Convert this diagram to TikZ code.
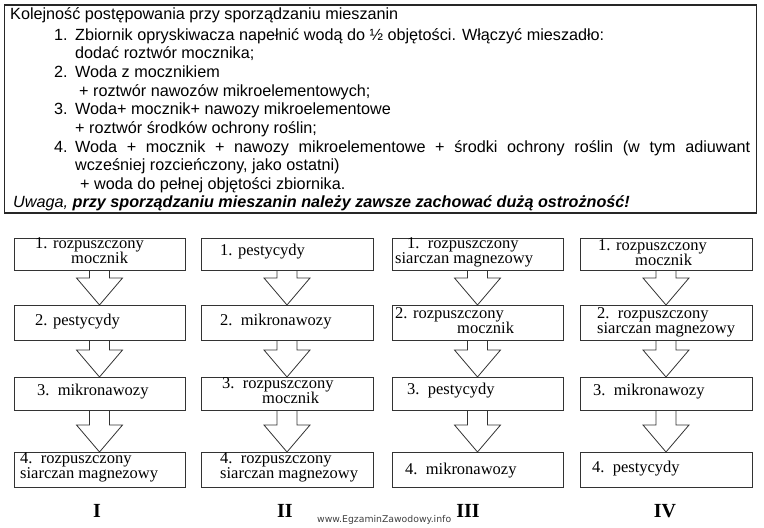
\documentclass[tikz,border=0pt]{standalone}
\usepackage{fontspec}
\setmainfont{Liberation Serif}
\newfontfamily\arialn{Liberation Sans}
\newfontfamily\wmfont{DejaVu Sans}
\usetikzlibrary{calc}
\newcommand{\blockarr}[2]{%
  \draw[arr] ($(#1.south)+(-10pt,0pt)$) -- ($(#2.north)+(-10pt,27pt)$) -- ($(#2.north)+(-23pt,27pt)$) -- (#2.north)
   -- ($(#2.north)+(23pt,27pt)$) -- ($(#2.north)+(10pt,27pt)$) -- ($(#1.south)+(10pt,0pt)$);}
\begin{document}
\begin{tikzpicture}[x=1pt,y=-1pt,
  frame/.style={draw=black!85, line width=1.1pt, inner sep=0pt, outer sep=0pt},
  box/.style={draw=black!80, line width=0.8pt, inner sep=0pt, outer sep=0pt},
  tt/.style={anchor=mid west, inner sep=0pt, font=\arialn\fontsize{16.2}{18.6}\selectfont},
  bt/.style={anchor=mid west, inner sep=0pt, font=\fontsize{16.5}{16.5}\selectfont},
  rn/.style={inner sep=0pt, font=\bfseries\fontsize{20}{20}\selectfont},
  arr/.style={draw=black!80, line width=0.8pt, line join=miter}
]
\useasboundingbox (0,0) rectangle (764,528);
\fill[white] (0,0) rectangle (764,528);

% top box
\node[frame, minimum width=752pt, minimum height=208pt] (top) at (380.5,109) {};
\node[tt] (t0) at (10,17) {Kolejność postępowania przy sporządzaniu mieszanin};
\node[tt] (n1) at (54,38) {1.};
\node[tt] (t1) at (75,38) {Zbiornik opryskiwacza napełnić wodą do ½ objętości. Włączyć mieszadło:};
\node[tt] (t1b) at (75,56.7) {dodać roztwór mocznika;};
\node[tt] (n2) at (54,75.4) {2.};
\node[tt] (t2) at (75,75.4) {Woda z mocznikiem};
\node[tt] (t2b) at (79,94) {+ roztwór nawozów mikroelementowych;};
\node[tt] (n3) at (54,112.7) {3.};
\node[tt] (t3) at (75,112.7) {Woda+ mocznik+ nawozy mikroelementowe};
\node[tt] (t3b) at (75,131.4) {+ roztwór środków ochrony roślin;};
\node[tt] (n4) at (54,150) {4.};
\node[tt] (t4) at (75,150) {\makebox[675pt][s]{Woda + mocznik + nawozy mikroelementowe + środki ochrony roślin (w tym adiuwant}};
\node[tt] (t4b) at (75,168.7) {wcześniej rozcieńczony, jako ostatni)};
\node[tt] (t4c) at (80,187.4) {+ woda do pełnej objętości zbiornika.};
\node[tt] (uw) at (13,205) {\itshape Uwaga, \bfseries przy sporządzaniu mieszanin należy zawsze zachować dużą ostrożność!};

% column I
\node[box, minimum width=171pt, minimum height=32pt] (a1) at (99.5,254) {};
\node[box, minimum width=171pt, minimum height=35pt] (a2) at (99.5,322.5) {};
\node[box, minimum width=171pt, minimum height=33pt] (a3) at (99.5,393.5) {};
\node[box, minimum width=171pt, minimum height=35pt] (a4) at (99.5,469.5) {};
% column II
\node[box, minimum width=172pt, minimum height=32pt] (b1) at (287,254) {};
\node[box, minimum width=172pt, minimum height=35pt] (b2) at (287,322.5) {};
\node[box, minimum width=172pt, minimum height=33pt] (b3) at (287,393.5) {};
\node[box, minimum width=172pt, minimum height=35pt] (b4) at (287,469.5) {};
% column III
\node[box, minimum width=171pt, minimum height=32pt] (c1) at (477.5,254) {};
\node[box, minimum width=171pt, minimum height=35pt] (c2) at (477.5,322.5) {};
\node[box, minimum width=171pt, minimum height=33pt] (c3) at (477.5,393.5) {};
\node[box, minimum width=171pt, minimum height=35pt] (c4) at (477.5,469.5) {};
% column IV
\node[box, minimum width=172pt, minimum height=32pt] (d1) at (666,254) {};
\node[box, minimum width=172pt, minimum height=35pt] (d2) at (666,322.5) {};
\node[box, minimum width=172pt, minimum height=33pt] (d3) at (666,393.5) {};
\node[box, minimum width=172pt, minimum height=35pt] (d4) at (666,469.5) {};

% arrows
\blockarr{a1}{a2}\blockarr{a2}{a3}\blockarr{a3}{a4}
\blockarr{b1}{b2}\blockarr{b2}{b3}\blockarr{b3}{b4}
\blockarr{c1}{c2}\blockarr{c2}{c3}\blockarr{c3}{c4}
\blockarr{d1}{d2}\blockarr{d2}{d3}\blockarr{d3}{d4}

% texts in boxes
\node[bt] (ta1) at (35,246.5) {1. rozpuszczony};
\node[bt] (ta1b) at (71,261.5) {mocznik};
\node[bt] (ta2) at (35,323) {2. pestycydy};
\node[bt] (ta3) at (37,393) {3.\ \ mikronawozy};
\node[bt] (ta4) at (20,461.5) {4.\ \ rozpuszczony};
\node[bt] (ta4b) at (20,476.5) {siarczan magnezowy};

\node[bt] (tb1) at (220,253) {1. pestycydy};
\node[bt] (tb2) at (220,323) {2.\ \ mikronawozy};
\node[bt] (tb3) at (222,386.5) {3.\ \ rozpuszczony};
\node[bt] (tb3b) at (262,401.5) {mocznik};
\node[bt] (tb4) at (220,461.5) {4.\ \ rozpuszczony};
\node[bt] (tb4b) at (220,476.5) {siarczan magnezowy};

\node[bt] (tc1) at (407,246) {1.\ \ rozpuszczony};
\node[bt] (tc1b) at (395,261) {siarczan magnezowy};
\node[bt] (tc2) at (395,316.5) {2. rozpuszczony};
\node[bt] (tc2b) at (457,331.5) {mocznik};
\node[bt] (tc3) at (407,392) {3.\ \ pestycydy};
\node[bt] (tc4) at (405,472) {4.\ \ mikronawozy};

\node[bt] (td1) at (598,248) {1. rozpuszczony};
\node[bt] (td1b) at (635,263) {mocznik};
\node[bt] (td2) at (597,316) {2.\ \ rozpuszczony};
\node[bt] (td2b) at (597,331) {siarczan magnezowy};
\node[bt] (td3) at (593,393) {3.\ \ mikronawozy};
\node[bt] (td4) at (592,470) {4.\ \ pestycydy};

% roman numerals
\node[rn] (r1) at (97,511) {I};
\node[rn] (r2) at (285,511) {II};
\node[rn] (r3) at (468,511) {III};
\node[rn] (r4) at (665,511) {IV};

% watermark
\node[anchor=mid west, inner sep=0pt, font=\wmfont\fontsize{9.3}{10}\selectfont, text=black!75] (wm) at (317,520) {www.EgzaminZawodowy.info};
\end{tikzpicture}
\end{document}
